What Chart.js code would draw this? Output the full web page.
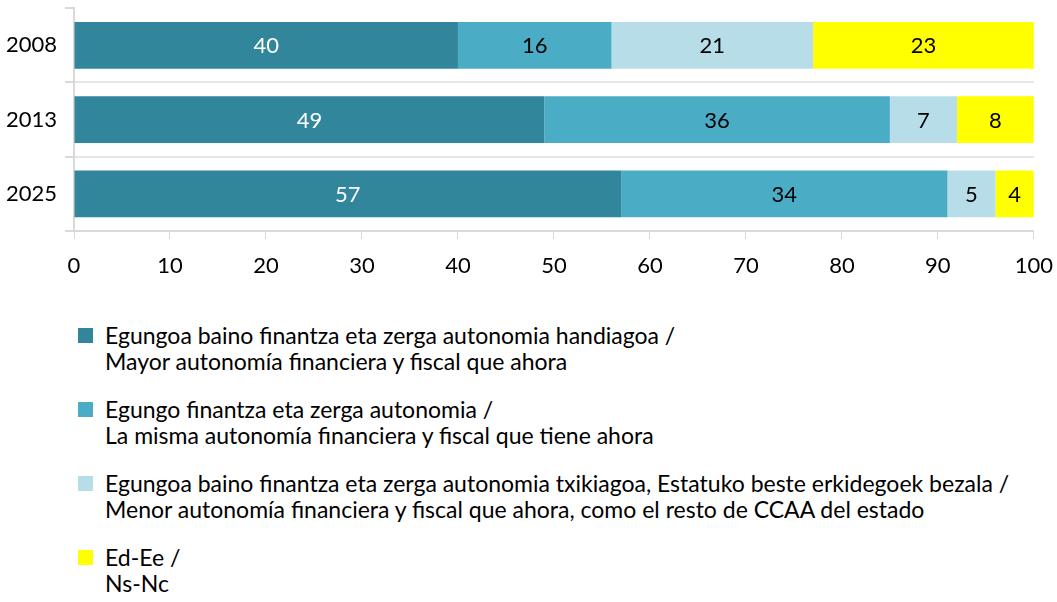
<!DOCTYPE html>
<html>
<head>
<meta charset="utf-8">
<script src="https://cdn.jsdelivr.net/npm/chart.js@4"></script>
<style>
  body { margin: 0; background: #fff; font-family: Lato, sans-serif; overflow: hidden; }
  #wrap { position: relative; width: 1057px; height: 602px; overflow: hidden; }
  #box { position: absolute; left: 0; top: -13px; width: 1067px; height: 303px; }
  #legend { position: absolute; left: 78px; top: 322px; }
  .item { display: flex; align-items: flex-start; margin-bottom: 22px; }
  .sw { width: 15px; height: 15px; margin-top: 6px; margin-right: 12px; flex: none; }
  .txt { font-size: 23px; line-height: 26px; color: #000; white-space: nowrap; }
</style>
</head>
<body>
<div id="wrap">
  <div id="box"><canvas id="chart"></canvas></div>
  <div id="legend"></div>
</div>
<script>
const years = ["2008", "2013", "2025"];
const mayor = [40, 49, 57];
const misma = [16, 36, 34];
const menor = [21, 7, 5];
const nsnc = [23, 8, 4];

const names = [
    ["Egungoa baino finantza eta zerga autonomia handiagoa /", "Mayor autonomía financiera y fiscal que ahora"],
    ["Egungo finantza eta zerga autonomia /", "La misma autonomía financiera y fiscal que tiene ahora"],
    ["Egungoa baino finantza eta zerga autonomia txikiagoa, Estatuko beste erkidegoek bezala /", "Menor autonomía financiera y fiscal que ahora, como el resto de CCAA del estado"],
    ["Ed-Ee /", "Ns-Nc"]
];
const colors = ["#31869c", "#4bacc6", "#b7dee8", "#ffff00"];
const labelColors = ["#ffffff", "#000000", "#000000", "#000000"];

const context = document.getElementById("chart").getContext("2d");

// draw the numbers in the middle of each segment
const barLabels = {
    id: "barLabels",
    afterDatasetsDraw(chart) {
        const ctx = chart.ctx;
        ctx.save();
        ctx.font = "22px Lato";
        ctx.textAlign = "center";
        ctx.textBaseline = "middle";
        chart.data.datasets.forEach((ds, i) => {
            chart.getDatasetMeta(i).data.forEach((bar, j) => {
                ctx.fillStyle = labelColors[i];
                ctx.fillText(ds.data[j], (bar.x + bar.base) / 2, bar.y + 1);
            });
        });
        ctx.restore();
    }
};

const sets = [mayor, misma, menor, nsnc].map((d, i) => ({
    label: names[i].join(" "),
    data: d,
    backgroundColor: colors[i],
    borderWidth: 0,
    categoryPercentage: 1,
    barPercentage: 0.63
}));

new Chart(context, {
    type: "bar",
    data: { labels: years, datasets: sets },
    options: {
        indexAxis: "y",
        responsive: true,
        maintainAspectRatio: false,
        animation: false,
        layout: { padding: { top: 7, right: 10 } },
        plugins: { legend: { display: false }, tooltip: { enabled: false } },
        scales: {
            x: {
                stacked: true,
                min: 0,
                max: 100,
                ticks: { stepSize: 10, color: "#000", font: { family: "Lato", size: 22 }, padding: 14 },
                grid: { drawOnChartArea: false, drawTicks: true, tickLength: 8, color: "#d9d9d9" },
                border: { color: "#d9d9d9", width: 2 },
                afterFit(s) { s.height = 59; }
            },
            y: {
                stacked: true,
                ticks: { color: "#000", font: { family: "Lato", size: 22 }, padding: 8 },
                grid: {
                    offset: true,
                    tickLength: 9,
                    lineWidth: 2,
                    color: c => c.index === 0 ? "rgba(0,0,0,0)" : "#e6e6e6",
                    tickColor: "#d9d9d9"
                },
                border: { color: "#d9d9d9", width: 2 },
                afterFit(s) { s.width = 74; }
            }
        }
    },
    plugins: [barLabels]
});

const legend = document.getElementById("legend");
names.forEach((n, i) => {
    const row = document.createElement("div");
    row.className = "item";
    row.innerHTML = '<div class="sw" style="background:' + colors[i] + '"></div><div class="txt">' + n[0] + "<br>" + n[1] + "</div>";
    legend.appendChild(row);
});
</script>
</body>
</html>
